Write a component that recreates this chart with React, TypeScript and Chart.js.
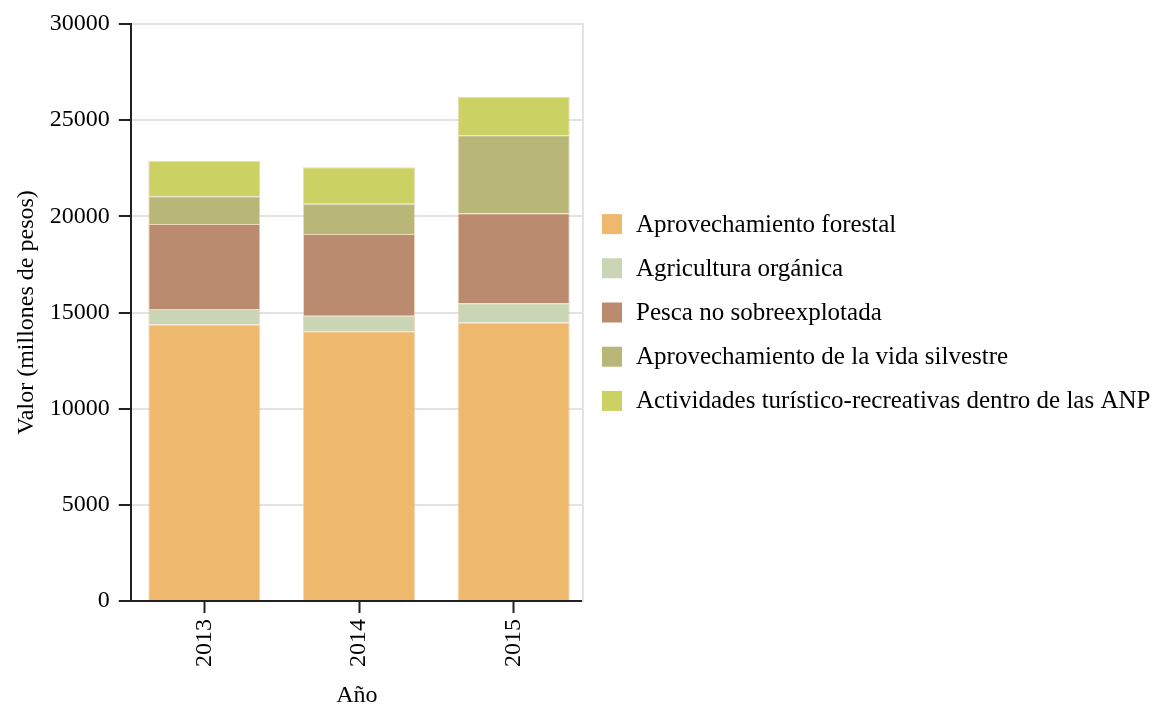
import React, { useEffect, useRef } from "react";
import { Chart, registerables } from "chart.js";

Chart.register(...registerables);

const years = [2013, 2014, 2015];
const forestal = [14380, 14030, 14485];
const agricultura = [800, 800, 990];
const pesca = [4420, 4245, 4680];
const silvestre = [1440, 1575, 4055];
const actividades = [1835, 1905, 2005];
const yTicks = [0, 5000, 10000, 15000, 20000, 25000, 30000];

const seriesNames = [
  "Aprovechamiento forestal",
  "Agricultura orgánica",
  "Pesca no sobreexplotada",
  "Aprovechamiento de la vida silvestre",
  "Actividades turístico-recreativas dentro de las ANP",
];
const seriesColors = ["#EFB96D", "#CAD5B5", "#BA8B6E", "#B8B778", "#CBD263"];

const FONT = "'Liberation Serif', 'Times New Roman', serif";

const legendPlugin = {
  id: "sideLegend",
  afterDraw(chart: any) {
    const { ctx, chartArea } = chart;
    const cy = (chartArea.top + chartArea.bottom) / 2;
    const gap = 44.2;
    const n = chart.data.datasets.length;
    ctx.save();
    ctx.font = `25px ${FONT}`;
    ctx.textBaseline = "middle";
    ctx.textAlign = "left";
    chart.data.datasets.forEach((ds: any, i: number) => {
      const y = cy + (i - (n - 1) / 2) * gap;
      const x = chartArea.right + 19;
      ctx.fillStyle = ds.backgroundColor;
      ctx.fillRect(x, y - 10, 20, 20);
      ctx.fillStyle = "#000";
      ctx.fillText(ds.label, x + 34, y + 1);
    });
    ctx.restore();
  },
};

export default function App() {
  const ref = useRef<HTMLCanvasElement | null>(null);
  useEffect(() => {
    if (!ref.current) return;
    const values = [forestal, agricultura, pesca, silvestre, actividades];
    const chart = new Chart(ref.current, {
      type: "bar",
      data: {
        labels: years,
        datasets: values.map((v, i) => ({
          label: seriesNames[i],
          data: v,
          backgroundColor: seriesColors[i],
          borderColor: "rgba(225,185,135,0.55)",
          borderWidth: 1,
          categoryPercentage: 1,
          barPercentage: 0.7245,
          yAxisID: "y",
        })),
      },
      plugins: [legendPlugin],
      options: {
        animation: false,
        responsive: true,
        maintainAspectRatio: false,
        layout: { padding: { top: 24, left: 3, right: 573, bottom: 0 } },
        plugins: {
          tooltip: { enabled: false },
          legend: { display: false },
        },
        scales: {
          x: {
            type: "linear",
            stacked: true,
            offset: false,
            min: 2012.5246,
            max: 2015.448,
            afterBuildTicks: (axis: any) => {
              axis.ticks = years.map((v) => ({ value: v }));
            },
            grid: {
              display: true,
              drawOnChartArea: false,
              offset: false,
              tickLength: 12,
              tickWidth: 2,
              tickColor: "#222",
            },
            border: { display: true, color: "#222", width: 2 },
            ticks: {
              color: "#000",
              font: { family: FONT, size: 24 },
              minRotation: 90,
              maxRotation: 90,
              padding: 6,
              callback: (v: any) => String(v),
            },
            title: {
              display: true,
              text: "Año",
              color: "#000",
              font: { family: FONT, size: 24, lineHeight: 1 },
              padding: { top: 11, bottom: 0 },
            },
          },
          y: {
            stacked: true,
            min: 0,
            max: 30000,
            afterBuildTicks: (axis: any) => {
              axis.ticks = yTicks.map((v) => ({ value: v }));
            },
            grid: {
              color: (ctx: any) => (ctx.tick && ctx.tick.value === 0 ? "rgba(0,0,0,0)" : "#e3e3e3"),
              lineWidth: 2,
              tickLength: 12,
              tickWidth: 2,
              tickColor: "#222",
            },
            border: { display: true, color: "#222", width: 2 },
            ticks: {
              color: "#000",
              font: { family: FONT, size: 24 },
              padding: 9,
              callback: (v: any) => String(v),
            },
            title: {
              display: true,
              text: "Valor (millones de pesos)",
              color: "#000",
              font: { family: FONT, size: 24 },
              padding: { top: 9, bottom: 0 },
            },
          },
          y2: {
            position: "right",
            min: 0,
            max: 30000,
            grid: { display: false, drawTicks: false },
            ticks: { display: false },
            border: { display: true, color: "#e3e3e3", width: 2 },
          },
        },
      },
    });
    return () => chart.destroy();
  }, []);
  return (
    <div style={{ position: "absolute", left: 0, top: 0, width: 1156, height: 708 }}>
      <canvas ref={ref} />
    </div>
  );
}
